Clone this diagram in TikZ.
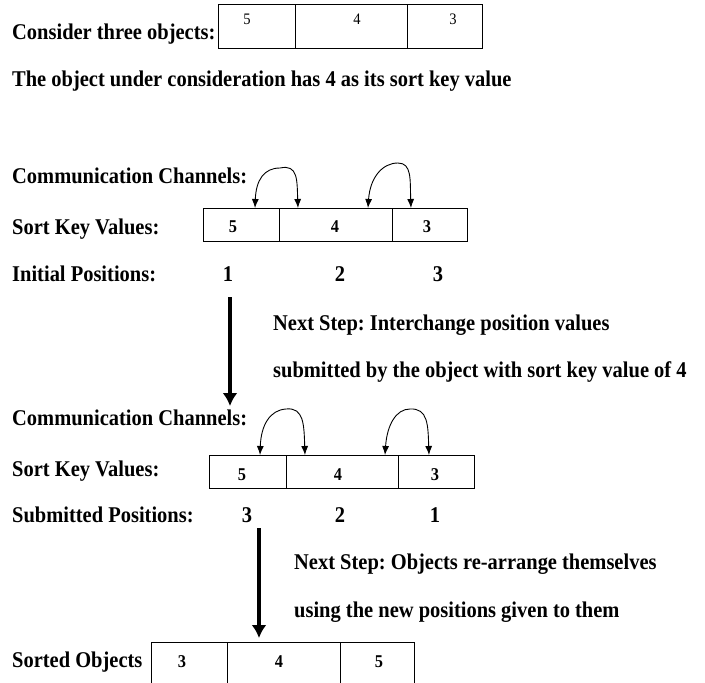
\documentclass[tikz,border=0pt]{standalone}
\usepackage{fontspec}
\setmainfont[FakeStretch=0.91]{Liberation Serif}
\usetikzlibrary{arrows.meta}
\frenchspacing

\tikzset{
  lbl/.style={font=\fontsize{22.5}{22.5}\selectfont\bfseries, anchor=base west, inner sep=0pt},
  posnum/.style={font=\fontsize{22.5}{22.5}\selectfont\bfseries, anchor=base, inner sep=0pt},
  num/.style={font=\fontsize{18}{18}\selectfont\bfseries, anchor=base, inner sep=0pt},
  thin num/.style={font=\fontsize{16}{16}\selectfont, anchor=base, inner sep=0pt},
  cell/.style={draw, line width=1.1pt, anchor=north west, inner sep=0pt},
  chan/.style={line width=0.9pt, {Latex[length=9pt,width=7pt]}-{Latex[length=9pt,width=7pt]}},
  nextstep/.style={line width=3.5pt, -{Latex[length=13pt,width=15pt]}}
}

\begin{document}
\begin{tikzpicture}[x=1pt, y=-1pt]
  \useasboundingbox (0,0) rectangle (705,683);

  % the three objects
  \node (consider) [lbl] at (12,39) {Consider three objects:};
  \node (o1) [cell, minimum width=77pt, minimum height=44pt] at (218,4) {};
  \node (o2) [cell, minimum width=112pt, minimum height=44pt] at (295,4) {};
  \node (o3) [cell, minimum width=75pt, minimum height=44pt] at (407,4) {};
  \node (o1v) [thin num] at (247,24) {5};
  \node (o2v) [thin num] at (357,24) {4};
  \node (o3v) [thin num] at (453,24) {3};
  \node (object) [lbl] at (12,86) {The object under consideration has 4 as its sort key value};

  % first step
  \node (comm1) [lbl] at (12,183) {Communication Channels:};
  \node (keys1) [lbl] at (12,234) {Sort Key Values:};
  \node (a1) [cell, minimum width=76pt, minimum height=33pt] at (203,208) {};
  \node (a2) [cell, minimum width=113pt, minimum height=33pt] at (279,208) {};
  \node (a3) [cell, minimum width=75pt, minimum height=33pt] at (392,208) {};
  \node (a1v) [num] at (233,232) {5};
  \node (a2v) [num] at (335,232) {4};
  \node (a3v) [num] at (427,232) {3};
  \node (init) [lbl] at (12,281) {Initial Positions:};
  \node (p1) [posnum] at (228,281) {1};
  \node (p2) [posnum] at (340,281) {2};
  \node (p3) [posnum] at (438,281) {3};

  \coordinate (ca1) at (255,208);
  \coordinate (ca2) at (298,208);
  \coordinate (cb1) at (368,208);
  \coordinate (cb2) at (411,208);
  \draw[chan] (ca1) .. controls (256,180) and (264,168) .. (280,168)
    .. controls (298,164) and (297,180) .. (ca2);
  \draw[chan] (cb1) .. controls (370,178) and (382,163) .. (398,163)
    .. controls (412,163) and (410,180) .. (cb2);

  % interchange
  \coordinate (s1) at (230,297);
  \coordinate (s2) at (230,406);
  \draw[nextstep] (s1) -- (s2);
  \node (next1) [lbl] at (273,330) {Next Step: Interchange position values};
  \node (next1b) [lbl] at (273,377) {submitted by the object with sort key value of 4};

  % second step
  \node (comm2) [lbl] at (12,425) {Communication Channels:};
  \node (keys2) [lbl] at (12,476) {Sort Key Values:};
  \node (b1) [cell, minimum width=77pt, minimum height=33pt] at (209,455) {};
  \node (b2) [cell, minimum width=112pt, minimum height=33pt] at (286,455) {};
  \node (b3) [cell, minimum width=76pt, minimum height=33pt] at (398,455) {};
  \node (b1v) [num] at (242,480) {5};
  \node (b2v) [num] at (338,480) {4};
  \node (b3v) [num] at (435,480) {3};
  \node (subm) [lbl] at (12,522) {Submitted Positions:};
  \node (q1) [posnum] at (247,522) {3};
  \node (q2) [posnum] at (340,522) {2};
  \node (q3) [posnum] at (435,522) {1};

  \coordinate (cc1) at (260,455);
  \coordinate (cc2) at (305,455);
  \coordinate (cd1) at (385,455);
  \coordinate (cd2) at (429,455);
  \draw[chan] (cc1) .. controls (261,425) and (270,410) .. (286,409)
    .. controls (304,407) and (304,425) .. (cc2);
  \draw[chan] (cd1) .. controls (387,425) and (396,409) .. (410,409)
    .. controls (428,408) and (428,425) .. (cd2);

  % re-arrange
  \coordinate (t1) at (259,528);
  \coordinate (t2) at (259,638);
  \draw[nextstep] (t1) -- (t2);
  \node (next2) [lbl] at (294,569) {Next Step: Objects re-arrange themselves};
  \node (next2b) [lbl] at (294,617) {using the new positions given to them};

  % sorted
  \node (sorted) [lbl] at (12,667) {Sorted Objects};
  \node (r1) [cell, minimum width=76pt, minimum height=50pt] at (151,642) {};
  \node (r2) [cell, minimum width=113pt, minimum height=50pt] at (227,642) {};
  \node (r3) [cell, minimum width=74pt, minimum height=50pt] at (340,642) {};
  \node (r1v) [num] at (182,667) {3};
  \node (r2v) [num] at (279,667) {4};
  \node (r3v) [num] at (379,667) {5};
\end{tikzpicture}
\end{document}
